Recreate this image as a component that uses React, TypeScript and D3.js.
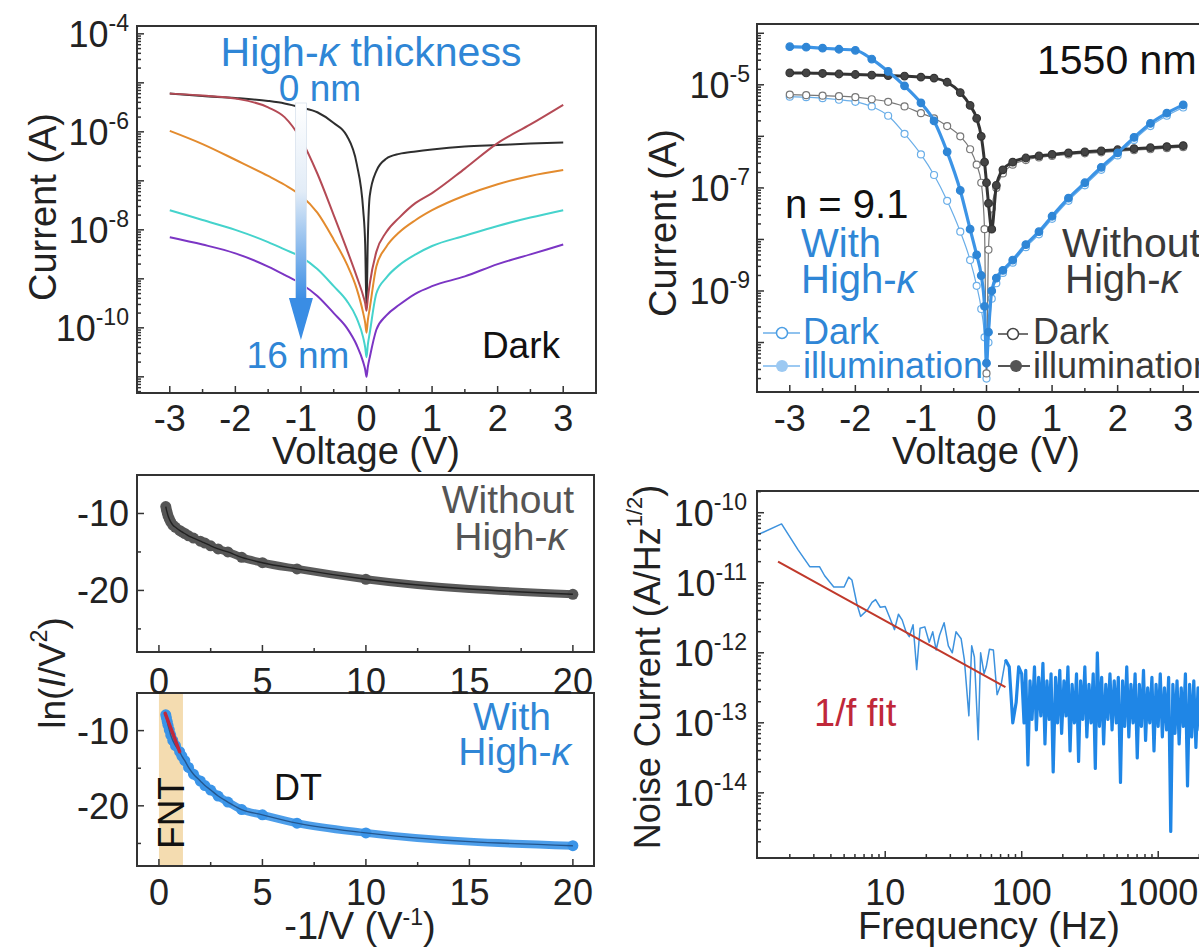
import React from "react";
import * as d3 from "d3";

const W = 1199;
const H = 951;
const FONT = "'Liberation Sans', Arial, Helvetica, sans-serif";
const BLUE_TXT = "#2f86d6";
const TICK = 36;
const TITLE = 38;

// ---------- (a) dark I-V for different high-k thickness, values are log10(I / A)
const ivVolt = [-3, -2.5, -2, -1.5, -1.25, -1, -0.75, -0.5, -0.3, -0.15, -0.05, -0.02, 0, 0.02, 0.05, 0.15, 0.3, 0.5, 0.75, 1, 1.5, 2, 2.5, 3];
const iv0nm = [-5.22, -5.27, -5.31, -5.37, -5.42, -5.5, -5.6, -5.82, -6.08, -6.65, -7.6, -8.3, -9.6, -8.2, -7.3, -6.8, -6.55, -6.45, -6.4, -6.36, -6.3, -6.27, -6.24, -6.22];
const ivT1 = [-5.22, -5.26, -5.32, -5.5, -5.7, -6.15, -6.85, -7.7, -8.4, -8.95, -9.35, -9.5, -9.65, -9.4, -9.1, -8.45, -8.05, -7.75, -7.45, -7.25, -6.75, -6.23, -5.85, -5.45];
const ivT2 = [-5.98, -6.25, -6.57, -6.9, -7.08, -7.3, -7.65, -8.2, -8.7, -9.2, -9.7, -9.9, -10.1, -9.85, -9.6, -8.75, -8.35, -8.05, -7.8, -7.6, -7.3, -7.07, -6.9, -6.78];
const ivT3 = [-7.6, -7.8, -8.0, -8.25, -8.4, -8.55, -8.8, -9.15, -9.45, -9.8, -10.2, -10.4, -10.6, -10.35, -10.1, -9.3, -8.98, -8.72, -8.5, -8.33, -8.12, -7.92, -7.75, -7.6];
const iv16nm = [-8.15, -8.3, -8.48, -8.75, -8.92, -9.1, -9.35, -9.7, -10.0, -10.35, -10.7, -10.85, -11.0, -10.8, -10.6, -10.04, -9.75, -9.53, -9.3, -9.15, -8.95, -8.7, -8.5, -8.3];
const ivSeries = [
  { name: "0 nm", values: iv0nm, color: "#2e2e2e" },
  { name: "t1", values: ivT1, color: "#b44a55" },
  { name: "t2", values: ivT2, color: "#e38b2e" },
  { name: "t3", values: ivT3, color: "#45d3cc" },
  { name: "16 nm", values: iv16nm, color: "#7b35c4" },
];

// ---------- (b) 1550 nm illumination, log10(I / A)
const photoVolt = [-3, -2.75, -2.5, -2.25, -2, -1.75, -1.5, -1.25, -1, -0.8, -0.6, -0.4, -0.25, -0.15, -0.08, -0.03, 0, 0.03, 0.08, 0.15, 0.25, 0.4, 0.6, 0.8, 1, 1.25, 1.5, 1.75, 2, 2.25, 2.5, 2.75, 3];
const withDark = [-5.23, -5.24, -5.26, -5.29, -5.33, -5.42, -5.6, -5.95, -6.35, -6.75, -7.25, -7.85, -8.4, -8.9, -9.35, -9.9, -10.7, -10.0, -9.15, -8.85, -8.65, -8.45, -8.15, -7.9, -7.6, -7.25, -6.95, -6.65, -6.37, -6.07, -5.8, -5.6, -5.44];
const withLight = [-4.26, -4.27, -4.29, -4.31, -4.33, -4.5, -4.74, -5.02, -5.35, -5.7, -6.3, -7.05, -7.8, -8.3, -8.7, -9.3, -10.4, -9.8, -9.0, -8.75, -8.6, -8.4, -8.1, -7.85, -7.55, -7.2, -6.9, -6.6, -6.32, -6.02, -5.75, -5.55, -5.39];
const withoutDark = [-5.19, -5.2, -5.21, -5.22, -5.24, -5.28, -5.33, -5.42, -5.55, -5.65, -5.8, -6.0, -6.25, -6.55, -6.9, -7.8, -10.6, -8.2, -7.4, -7.0, -6.72, -6.55, -6.46, -6.41, -6.38, -6.35, -6.33, -6.31, -6.29, -6.27, -6.25, -6.23, -6.21];
const withoutLight = [-4.77, -4.77, -4.78, -4.79, -4.8, -4.81, -4.82, -4.83, -4.85, -4.87, -4.95, -5.15, -5.4, -5.65, -6.0, -6.5, -6.9, -7.3, -7.8, -6.95, -6.65, -6.5, -6.42, -6.38, -6.35, -6.32, -6.3, -6.28, -6.26, -6.24, -6.22, -6.2, -6.18];

// ---------- (c) ln(I/V^2) versus -1/V
const fnX = [0.33, 0.36, 0.4, 0.44, 0.5, 0.57, 0.67, 0.8, 1.0, 1.11, 1.25, 1.43, 1.67, 2.0, 2.22, 2.5, 2.86, 3.33, 4.0, 5.0, 6.67, 10, 20];
const fnWithout = [-9.1, -9.5, -9.9, -10.3, -10.7, -11.1, -11.5, -11.8, -12.2, -12.4, -12.6, -12.9, -13.2, -13.6, -13.85, -14.2, -14.6, -15.0, -15.7, -16.4, -17.2, -18.55, -20.5];
const fnWith = [-7.9, -8.3, -8.8, -9.3, -9.9, -10.6, -11.3, -12.0, -12.8, -13.4, -14.0, -14.9, -15.8, -16.7, -17.3, -17.9, -18.7, -19.5, -20.5, -21.2, -22.3, -23.6, -25.3];
const fntFitX = [0.3, 1.0];
const fntFitY = [-7.7, -12.8];
const fntBand = [0, 1.16];

// ---------- (d) noise spectrum, log10(A/Hz^1/2)
const noiseFreq = [
  1.18, 1.74, 2.3, 2.8, 3.3, 3.6, 4.2, 5.0, 5.4, 5.7, 6.2, 6.6, 7.4, 8.0, 8.5, 9.2, 10, 10.8, 11.7, 12.5, 13.3, 14.2, 15, 16, 17, 18, 19.5, 21, 22.3, 23.6, 25, 27, 29, 31, 33, 36, 38, 41, 43, 45, 48, 50, 53, 55, 58, 62, 66, 71, 76, 81, 86, 91, 95,
  100, 104, 107, 111, 115, 119, 124, 128, 133, 138, 143, 148, 153, 159, 164, 170, 177, 183, 190, 196, 204, 211, 218, 226, 234, 243, 252, 261, 270, 280, 290, 300, 311, 322, 334, 346, 358, 371, 385, 398, 413, 428, 443, 459, 476, 493, 510, 529, 548, 568, 588, 609, 631, 654, 677, 702, 727, 753, 780, 808, 837, 867, 899, 931, 964, 999, 1035, 1072, 1111, 1151, 1192, 1235, 1280, 1326, 1373, 1423, 1474, 1527, 1582, 1639, 1698, 1759, 1822, 1888, 1956, 2026, 2099, 2175, 2253, 2334, 2418, 2505, 2596,
];
const noiseExp = [
  -10.31, -10.16, -10.53, -10.77, -10.77, -10.9, -11.06, -11.06, -10.92, -10.96, -11.3, -11.48, -11.39, -11.28, -11.24, -11.35, -11.34, -11.5, -11.67, -11.45, -11.53, -11.7, -11.77, -11.6, -12.24, -11.65, -11.63, -11.85, -11.7, -11.96, -11.75, -11.57, -11.9, -12.0, -11.7, -11.8, -12.1, -12.9, -11.9, -12.06, -13.24, -12.0, -12.3, -12.2, -11.95, -11.96, -12.6, -12.43, -12.1, -12.2, -13.0, -12.71, -12.2,
  -12.3, -13.0, -12.25, -13.6, -12.4, -12.95, -12.2, -13.1, -12.35, -12.9, -12.15, -13.3, -12.4, -12.95, -12.3, -13.7, -12.35, -13.0, -12.25, -13.15, -12.4, -12.9, -12.2, -13.4, -12.45, -13.0, -12.3, -13.55, -12.4, -12.95, -12.2, -13.2, -12.45, -13.0, -12.3, -13.65, -12.0, -13.05, -12.35, -13.3, -12.45, -12.95, -12.3, -13.1, -12.4, -13.0, -12.35, -13.85, -12.4, -13.05, -12.2, -13.2, -12.45, -13.0, -12.3, -13.5, -12.45, -13.05, -12.25, -13.25, -12.5, -13.0, -12.35, -13.4, -12.45, -13.05, -12.3, -13.2, -12.5, -13.1, -12.35, -14.55, -12.45, -13.15, -12.4, -13.3, -12.5, -13.05, -12.3, -13.9, -12.45, -13.2, -12.4, -13.35, -12.5, -13.1, -12.35, -14.0, -12.5, -13.25, -12.4, -13.3, -12.6,
];
const fitFreq = [1.64, 76];
const fitExp = [-10.7, -12.49];

// ---------- layout of the four frames
const boxA = { x0: 137, x1: 596, y0: 26, y1: 393 };
const boxB = { x0: 757, x1: 1216, y0: 24, y1: 392 };
const boxC1 = { x0: 137, x1: 594, y0: 475, y1: 652 };
const boxC2 = { x0: 137, x1: 594, y0: 693, y1: 866 };
const boxD = { x0: 757, x1: 1216, y0: 491, y1: 858 };

type Box = typeof boxA;

const logTicks = (lo: number, hi: number) => {
  const out: { e: number; major: boolean }[] = [];
  for (let n = Math.floor(lo); n <= Math.ceil(hi); n++) {
    for (let k = 1; k < 10; k++) {
      const e = n + Math.log10(k);
      if (e >= lo && e <= hi) out.push({ e, major: k === 1 });
    }
  }
  return out;
};

const Frame = ({ b }: { b: Box }) => (
  <rect x={b.x0} y={b.y0} width={b.x1 - b.x0} height={b.y1 - b.y0} fill="none" stroke="#333" strokeWidth={2} />
);

const YTicks = ({ b, ys }: { b: Box; ys: { y: number; major: boolean }[] }) => (
  <g stroke="#333" strokeWidth={1.5}>
    {ys.map((t, i) => (
      <line key={i} x1={b.x0} x2={b.x0 + (t.major ? 7 : 4)} y1={t.y} y2={t.y} />
    ))}
  </g>
);

const XTicks = ({ b, xs }: { b: Box; xs: { x: number; major: boolean }[] }) => (
  <g stroke="#333" strokeWidth={1.5}>
    {xs.map((t, i) => (
      <line key={i} x1={t.x} x2={t.x} y1={b.y1} y2={b.y1 - (t.major ? 7 : 4)} />
    ))}
  </g>
);

const Pow = ({ x, y, exp, size = TICK }: { x: number; y: number; exp: string; size?: number }) => (
  <text x={x} y={y} fontSize={size} textAnchor="end" fill="#222">
    10
    <tspan dy={-size * 0.45} fontSize={size * 0.64}>
      {exp}
    </tspan>
  </text>
);

const Kappa = () => <tspan fontStyle="italic">κ</tspan>;

const Clip = ({ id, b }: { id: string; b: Box }) => (
  <clipPath id={id}>
    <rect x={b.x0} y={b.y0} width={b.x1 - b.x0} height={b.y1 - b.y0} />
  </clipPath>
);

const PanelA = () => {
  const x = d3.scaleLinear().domain([-3.5, 3.5]).range([boxA.x0, boxA.x1]);
  const y = d3.scaleLinear().domain([-11.33, -3.84]).range([boxA.y1, boxA.y0]);
  const line = d3
    .line<number>()
    .x((_, i) => x(ivVolt[i]))
    .y((d) => y(d))
    .curve(d3.curveMonotoneX);
  const yt = logTicks(-11.33, -3.84).map((t) => ({ y: y(t.e), major: t.major }));
  const xt = d3.range(-3, 3.01, 0.5).map((v) => ({ x: x(v), major: Math.abs(v % 1) < 1e-6 }));
  return (
    <g>
      <g clipPath="url(#clipA)">
        {ivSeries.map((s) => (
          <path key={s.name} d={line(s.values) || ""} fill="none" stroke={s.color} strokeWidth={2} />
        ))}
        {/* thickness arrow */}
        <rect x={x(-1) - 5.5} y={103} width={11} height={197} fill="url(#arrowGrad)" stroke="#d9e3ee" strokeWidth={0.8} />
        <path d={`M${x(-1) - 12},298 L${x(-1) + 12},298 L${x(-1)},340 Z`} fill="#3a8de4" />
      </g>
      <Frame b={boxA} />
      <YTicks b={boxA} ys={yt} />
      <XTicks b={boxA} xs={xt} />
      {[-4, -6, -8, -10].map((e) => (
        <Pow key={e} x={129} y={y(e) + 13} exp={String(e)} />
      ))}
      {d3.range(-3, 4).map((v) => (
        <text key={v} x={x(v)} y={431} fontSize={TICK} textAnchor="middle" fill="#222">
          {v}
        </text>
      ))}
      <text x={366} y={464} fontSize={TITLE} textAnchor="middle" fill="#222">
        Voltage (V)
      </text>
      <text transform="translate(43,207) rotate(-90)" fontSize={TITLE} textAnchor="middle" dominantBaseline="central" fill="#222">
        Current (A)
      </text>
      <text x={371} y={66} fontSize={41} textAnchor="middle" fill={BLUE_TXT}>
        High-<Kappa /> thickness
      </text>
      <text x={320} y={101} fontSize={37} textAnchor="middle" fill={BLUE_TXT}>
        0 nm
      </text>
      <text x={298} y={368} fontSize={37} textAnchor="middle" fill={BLUE_TXT}>
        16 nm
      </text>
      <text x={560} y={358} fontSize={37} textAnchor="end" fill="#111">
        Dark
      </text>
    </g>
  );
};

const PanelB = () => {
  const x = d3.scaleLinear().domain([-3.5, 3.5]).range([boxB.x0, boxB.x1]);
  const y = d3.scaleLinear().domain([-10.96, -3.82]).range([boxB.y1, boxB.y0]);
  const line = d3
    .line<number>()
    .x((_, i) => x(photoVolt[i]))
    .y((d) => y(d))
    .curve(d3.curveMonotoneX);
  const yt = logTicks(-10.96, -3.82).map((t) => ({ y: y(t.e), major: t.major }));
  const xt = d3.range(-3, 3.01, 0.5).map((v) => ({ x: x(v), major: Math.abs(v % 1) < 1e-6 }));
  const series = [
    { v: withDark, stroke: "#6aaee8", lw: 1.2, fill: "#fff", mStroke: "#6aaee8", r: 3.5 },
    { v: withoutDark, stroke: "#777", lw: 1.2, fill: "#fff", mStroke: "#777", r: 3.5 },
    { v: withoutLight, stroke: "#333", lw: 3, fill: "#444", mStroke: "#333", r: 3.8 },
    { v: withLight, stroke: "#3c94e6", lw: 3.2, fill: "#2f86d6", mStroke: "#2f86d6", r: 3.8 },
  ];
  return (
    <g>
      <g clipPath="url(#clipB)">
        {series.map((s, k) => (
          <g key={k}>
            <path d={line(s.v) || ""} fill="none" stroke={s.stroke} strokeWidth={s.lw} />
            {s.v.map((d, i) => (
              <circle key={i} cx={x(photoVolt[i])} cy={y(d)} r={s.r} fill={s.fill} stroke={s.mStroke} strokeWidth={1.2} />
            ))}
          </g>
        ))}
      </g>
      <Frame b={boxB} />
      <YTicks b={boxB} ys={yt} />
      <XTicks b={boxB} xs={xt} />
      {[-5, -7, -9].map((e) => (
        <Pow key={e} x={750} y={y(e) + 13} exp={String(e)} />
      ))}
      {d3.range(-3, 4).map((v) => (
        <text key={v} x={x(v)} y={431} fontSize={TICK} textAnchor="middle" fill="#222">
          {v}
        </text>
      ))}
      <text x={986} y={464} fontSize={TITLE} textAnchor="middle" fill="#222">
        Voltage (V)
      </text>
      <text transform="translate(663,223) rotate(-90)" fontSize={TITLE} textAnchor="middle" dominantBaseline="central" fill="#222">
        Current (A)
      </text>
      <text x={1037} y={74} fontSize={41} fill="#111">
        1550 nm
      </text>
      <text x={785} y={218} fontSize={40} fill="#111">
        n = 9.1
      </text>
      <text x={801} y={257} fontSize={40} fill={BLUE_TXT}>
        With
      </text>
      <text x={801} y={293} fontSize={40} fill={BLUE_TXT}>
        High-<Kappa />
      </text>
      <text x={1062} y={257} fontSize={41} fill="#3a3a3a">
        Without
      </text>
      <text x={1065} y={293} fontSize={40} fill="#3a3a3a">
        High-<Kappa />
      </text>
      {/* legends */}
      <g>
        <line x1={763} x2={800} y1={333} y2={333} stroke="#6aaee8" strokeWidth={1.5} />
        <circle cx={782} cy={333} r={5.5} fill="#fff" stroke="#4d9fe4" strokeWidth={1.5} />
        <text x={803} y={344} fontSize={36} fill={BLUE_TXT}>
          Dark
        </text>
        <line x1={763} x2={800} y1={366} y2={366} stroke="#9cc9f2" strokeWidth={2} />
        <circle cx={782} cy={366} r={6} fill="#9cc9f2" />
        <text x={803} y={378} fontSize={36} fill={BLUE_TXT}>
          illumination
        </text>
        <line x1={998} x2={1028} y1={334} y2={334} stroke="#444" strokeWidth={1.5} />
        <circle cx={1013} cy={334} r={5.5} fill="#fff" stroke="#444" strokeWidth={1.5} />
        <text x={1033} y={344} fontSize={36} fill="#3a3a3a">
          Dark
        </text>
        <line x1={998} x2={1030} y1={366} y2={366} stroke="#555" strokeWidth={2} />
        <circle cx={1016} cy={366} r={6} fill="#555" />
        <text x={1033} y={378} fontSize={36} fill="#3a3a3a">
          illumination
        </text>
      </g>
    </g>
  );
};

const PanelC = () => {
  const x = d3.scaleLinear().domain([-1.06, 21.02]).range([boxC1.x0, boxC1.x1]);
  const y1 = d3.scaleLinear().domain([-28, -5]).range([boxC1.y1, boxC1.y0]);
  const y2 = d3.scaleLinear().domain([-28, -5]).range([boxC2.y1, boxC2.y0]);
  const l1 = d3.line<number>().x((_, i) => x(fnX[i])).y((d) => y1(d)).curve(d3.curveMonotoneX);
  const l2 = d3.line<number>().x((_, i) => x(fnX[i])).y((d) => y2(d)).curve(d3.curveMonotoneX);
  const fit = d3.line<number>().x((_, i) => x(fntFitX[i])).y((d) => y2(d));
  const xt = [0, 2.5, 5, 7.5, 10, 12.5, 15, 17.5, 20].map((v) => ({ x: x(v), major: v % 5 === 0 }));
  const yt = (s: d3.ScaleLinear<number, number>) =>
    [-10, -15, -20, -25].map((v) => ({ y: s(v), major: v % 10 === 0 }));
  return (
    <g>
      <rect x={x(fntBand[0])} y={boxC2.y0} width={x(fntBand[1]) - x(fntBand[0])} height={boxC2.y1 - boxC2.y0} fill="#f4dcb0" />
      <g clipPath="url(#clipC1)">
        <path d={l1(fnWithout) || ""} fill="none" stroke="#4a4a4a" strokeWidth={8} strokeLinecap="round" opacity={0.9} />
        {fnWithout.map((d, i) => (
          <circle key={i} cx={x(fnX[i])} cy={y1(d)} r={5.5} fill="#555" />
        ))}
        <path d={l1(fnWithout) || ""} fill="none" stroke="#222" strokeWidth={1.4} />
      </g>
      <g clipPath="url(#clipC2)">
        <path d={l2(fnWith) || ""} fill="none" stroke="#3a94e8" strokeWidth={8} strokeLinecap="round" opacity={0.9} />
        {fnWith.map((d, i) => (
          <circle key={i} cx={x(fnX[i])} cy={y2(d)} r={5.5} fill="#3a94e8" />
        ))}
        <path d={l2(fnWith) || ""} fill="none" stroke="#24578f" strokeWidth={1.4} />
        <path d={fit(fntFitY) || ""} fill="none" stroke="#c0283a" strokeWidth={3.5} strokeLinecap="round" />
      </g>
      <Frame b={boxC1} />
      <Frame b={boxC2} />
      <YTicks b={boxC1} ys={yt(y1)} />
      <YTicks b={boxC2} ys={yt(y2)} />
      <XTicks b={boxC1} xs={xt} />
      <XTicks b={boxC2} xs={xt} />
      {[-10, -20].map((v) => (
        <g key={v}>
          <text x={129} y={y1(v) + 13} fontSize={TICK} textAnchor="end" fill="#222">
            {v}
          </text>
          <text x={129} y={y2(v) + 13} fontSize={TICK} textAnchor="end" fill="#222">
            {v}
          </text>
        </g>
      ))}
      {[0, 5, 10, 15, 20].map((v) => (
        <g key={v}>
          <text x={x(v)} y={694} fontSize={TICK} textAnchor="middle" fill="#222">
            {v}
          </text>
          <text x={x(v)} y={905} fontSize={TICK} textAnchor="middle" fill="#222">
            {v}
          </text>
        </g>
      ))}
      <text x={360} y={939} fontSize={TITLE} textAnchor="middle" fill="#222">
        -1/V (V
        <tspan dy={-14} fontSize={23}>
          -1
        </tspan>
        <tspan dy={14}>)</tspan>
      </text>
      <text transform="translate(52,673) rotate(-90)" fontSize={37} textAnchor="middle" dominantBaseline="central" fill="#222">
        ln(<tspan fontStyle="italic">I</tspan>/V
        <tspan dy={-13} fontSize={23}>
          2
        </tspan>
        <tspan dy={13}>)</tspan>
      </text>
      <text x={574} y={513} fontSize={39} textAnchor="end" fill="#555">
        Without
      </text>
      <text x={567} y={550} fontSize={39} textAnchor="end" fill="#555">
        High-<Kappa />
      </text>
      <text x={551} y={730} fontSize={39} textAnchor="end" fill={BLUE_TXT}>
        With
      </text>
      <text x={571} y={765} fontSize={39} textAnchor="end" fill={BLUE_TXT}>
        High-<Kappa />
      </text>
      <text x={274} y={800} fontSize={36} fill="#111">
        DT
      </text>
      <text transform="translate(171,813) rotate(-90)" fontSize={37} textAnchor="middle" dominantBaseline="central" fill="#111">
        FNT
      </text>
    </g>
  );
};

const PanelD = () => {
  const x = d3.scaleLog().domain([1.15, 2650]).range([boxD.x0, boxD.x1]);
  const y = d3.scaleLinear().domain([-14.93, -9.69]).range([boxD.y1, boxD.y0]);
  const pts = d3.zip(noiseFreq, noiseExp) as [number, number][];
  const line = d3
    .line<[number, number]>()
    .x((d) => x(d[0]))
    .y((d) => y(d[1]));
  const fit = d3.line<number>().x((_, i) => x(fitFreq[i])).y((d) => y(d));
  const yt = logTicks(-14.93, -9.69).map((t) => ({ y: y(t.e), major: t.major }));
  const xt = logTicks(Math.log10(1.15), Math.log10(2650)).map((t) => ({ x: x(Math.pow(10, t.e)), major: t.major }));
  return (
    <g>
      <g clipPath="url(#clipD)">
        <path d={line(pts) || ""} fill="none" stroke="#3d92de" strokeWidth={1.5} strokeLinejoin="round" />
        <path d={line(pts.filter((p) => p[0] >= 76)) || ""} fill="none" stroke="#1f86e6" strokeWidth={3.2} strokeLinejoin="round" />
        <path d={fit(fitExp) || ""} fill="none" stroke="#c0392b" strokeWidth={2} />
      </g>
      <Frame b={boxD} />
      <YTicks b={boxD} ys={yt} />
      <XTicks b={boxD} xs={xt} />
      {[-10, -11, -12, -13, -14].map((e) => (
        <Pow key={e} x={747} y={y(e) + 13} exp={String(e)} />
      ))}
      {[10, 100, 1000].map((f) => (
        <text key={f} x={x(f)} y={905} fontSize={TICK} textAnchor="middle" fill="#222">
          {f}
        </text>
      ))}
      <text x={989} y={939} fontSize={TITLE} textAnchor="middle" fill="#222">
        Frequency (Hz)
      </text>
      <text transform="translate(647,667) rotate(-90)" fontSize={36} textAnchor="middle" dominantBaseline="central" fill="#222">
        Noise Current (A/Hz
        <tspan dy={-13} fontSize={22}>
          1/2
        </tspan>
        <tspan dy={13}>)</tspan>
      </text>
      <text x={814} y={726} fontSize={38} fill="#c0283a">
        1/f fit
      </text>
    </g>
  );
};

export default function App() {
  return (
    <svg
      width={W}
      height={H}
      style={{ position: "absolute", left: 0, top: 0, background: "#fff", fontFamily: FONT }}
    >
      <defs>
        <linearGradient id="arrowGrad" x1="0" x2="0" y1="0" y2="1">
          <stop offset="0%" stopColor="#ffffff" />
          <stop offset="45%" stopColor="#e2ecf7" />
          <stop offset="100%" stopColor="#3a8de4" />
        </linearGradient>
        <Clip id="clipA" b={boxA} />
        <Clip id="clipB" b={boxB} />
        <Clip id="clipC1" b={boxC1} />
        <Clip id="clipC2" b={boxC2} />
        <Clip id="clipD" b={boxD} />
      </defs>
      <rect width={W} height={H} fill="#fff" />
      <PanelA />
      <PanelB />
      <PanelC />
      <PanelD />
    </svg>
  );
}
